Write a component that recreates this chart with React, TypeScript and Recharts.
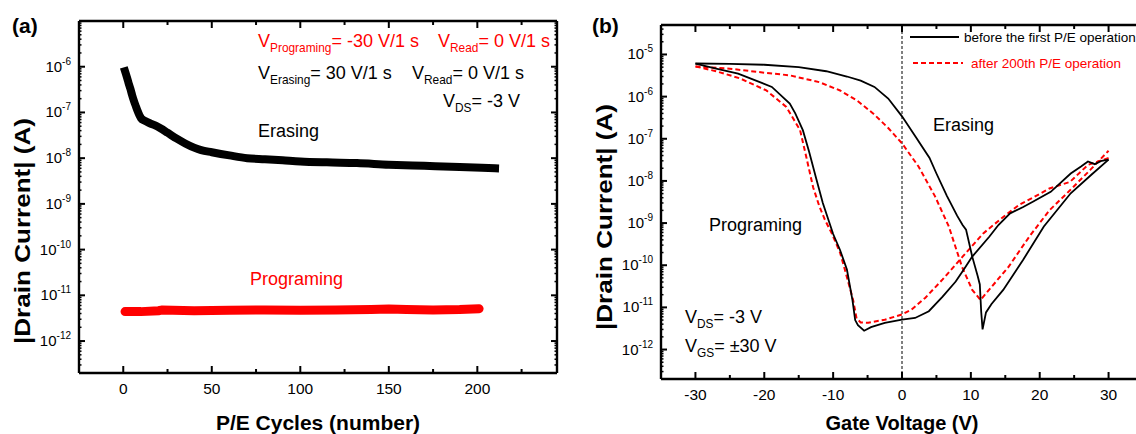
import React from "react";
import { LineChart, Line, XAxis, YAxis, ReferenceLine } from "recharts";

// (a) endurance: P/E cycles vs |drain current|
const erasingCycles = [1, 2, 3, 4, 5, 6, 7, 8, 10, 12, 15, 18, 21, 25, 30, 35, 40, 44, 50, 60, 70, 80, 90, 100, 115, 132, 150, 170, 190, 210];
const erasingCurrent = [8e-7, 6e-7, 4.4e-7, 3.3e-7, 2.4e-7, 1.8e-7, 1.4e-7, 1.1e-7, 7.5e-8, 6.6e-8, 5.8e-8, 5.2e-8, 4.5e-8, 3.6e-8, 2.7e-8, 2.1e-8, 1.7e-8, 1.5e-8, 1.35e-8, 1.15e-8, 1.0e-8, 9.5e-9, 9.0e-9, 8.5e-9, 8.1e-9, 7.8e-9, 7.2e-9, 6.8e-9, 6.4e-9, 6.0e-9];
const programCycles = [1, 10, 20, 22, 40, 60, 80, 100, 120, 140, 150, 160, 175, 190, 201];
const programCurrent = [4.4e-12, 4.4e-12, 4.6e-12, 4.8e-12, 4.6e-12, 4.7e-12, 4.8e-12, 4.7e-12, 4.8e-12, 4.9e-12, 5.0e-12, 4.9e-12, 4.8e-12, 4.9e-12, 5.1e-12];

// (b) transfer curves, each sweep direction as its own branch
const beforeFwdV = [-30, -25, -20, -15, -11, -8, -6, -4, -2, 0, 2, 4, 5, 6.5, 8, 8.8, 9.3, 10.2, 11, 11.3, 11.5, 11.7, 12.2, 13, 14.7, 17.6, 20.6, 24.5, 27.5, 30];
const beforeFwdI = [6.1e-6, 6.0e-6, 5.7e-6, 5.0e-6, 4.0e-6, 3.0e-6, 2.4e-6, 1.7e-6, 9e-7, 3.4e-7, 1.1e-7, 3.5e-8, 1.5e-8, 4.5e-9, 1.5e-9, 9e-10, 7e-10, 1.6e-10, 5.5e-11, 3.5e-11, 8e-12, 3e-12, 7.6e-12, 1.2e-11, 2.6e-11, 1.35e-10, 8.3e-10, 5.1e-9, 1.4e-8, 3.2e-8];
const beforeRevV = [30, 29, 28, 27, 26, 24.5, 21.6, 19, 17.6, 15.7, 14, 12.7, 10.2, 9, 7.8, 5.9, 3.9, 1.9, 0, -2.5, -4.5, -5.5, -6.4, -6.8, -7.2, -8, -9, -10, -11.5, -12.5, -13.5, -14.4, -15.5, -16.3, -18.9, -23.8, -27, -30];
const beforeRevI = [3.2e-8, 3.0e-8, 2.5e-8, 2.9e-8, 2.2e-8, 1.5e-8, 5.5e-9, 3.2e-9, 2.4e-9, 1.7e-9, 9e-10, 4.8e-10, 1.6e-10, 8e-11, 4.1e-11, 1.8e-11, 8.1e-12, 5.6e-12, 5.1e-12, 4.3e-12, 3.4e-12, 2.8e-12, 3.8e-12, 5e-12, 1.5e-11, 7.9e-11, 2.3e-10, 5.5e-10, 3e-9, 1.2e-8, 5e-8, 1.6e-7, 4e-7, 6.8e-7, 1.7e-6, 3.5e-6, 4.6e-6, 6.1e-6];
const afterFwdV = [-30, -25, -20, -16.3, -12, -9, -6.5, -4.2, -2, 0, 2.4, 4.8, 6.8, 8.7, 10.2, 11.4, 13.1, 15.5, 18.5, 21.4, 24.4, 27.3, 30];
const afterFwdI = [5.2e-6, 4.6e-6, 3.7e-6, 3.2e-6, 2.2e-6, 1.4e-6, 8e-7, 4e-7, 1.8e-7, 7.8e-8, 2.2e-8, 4.3e-9, 8.3e-10, 9.3e-11, 2.6e-11, 1.5e-11, 3.2e-11, 9.3e-11, 4.8e-10, 2e-9, 6e-9, 1.8e-8, 5.2e-8];
const afterRevV = [30, 27, 24.4, 21.4, 19, 17, 14.7, 11.8, 8.8, 5.9, 3.4, 1.4, 0, -2.5, -4.9, -6, -6.6, -7.1, -8.3, -9, -10.2, -11.2, -12, -12.9, -13.9, -14.8, -16.8, -19.7, -23.5, -27, -30];
const afterRevI = [3.5e-8, 2.4e-8, 9.5e-9, 6.6e-9, 4e-9, 2.7e-9, 1.4e-9, 5.7e-10, 1.6e-10, 4.6e-11, 1.7e-11, 8.9e-12, 6.8e-12, 5.1e-12, 4.3e-12, 4.4e-12, 5.5e-12, 1.5e-11, 7.9e-11, 2e-10, 5.7e-10, 1.2e-9, 2.5e-9, 7e-9, 3.7e-8, 1.6e-7, 5.7e-7, 1.4e-6, 2.7e-6, 4e-6, 5.2e-6];

const aXTicks = [0, 50, 100, 150, 200];
const aXMinor = [25, 75, 125, 175, 225];
const aYTicks = [1e-12, 1e-11, 1e-10, 1e-9, 1e-8, 1e-7, 1e-6];
const bXTicks = [-30, -20, -10, 0, 10, 20, 30];
const bXMinor = [-25, -15, -5, 5, 15, 25];
const bYTicks = [1e-12, 1e-11, 1e-10, 1e-9, 1e-8, 1e-7, 1e-6, 1e-5];

const FONT = "'Liberation Sans', Arial, sans-serif";
const RED = "#ff0000";

const zip = (xs: number[], ys: number[]) => xs.map((x, i) => ({ x, y: ys[i] }));

// log minor ticks (2..9 x decade) inside a domain
const withMinor = (majors: number[], lo: number, hi: number) => {
  const out: number[] = [];
  for (let e = -14; e <= -4; e++) {
    for (let k = 1; k <= 9; k++) {
      const v = Number((k * Math.pow(10, e)).toPrecision(3));
      if (v >= lo && v <= hi && (k > 1 || majors.includes(v))) out.push(v);
    }
  }
  return out;
};

const isDecade = (v: number) => Math.abs(Math.log10(v) - Math.round(Math.log10(v))) < 1e-6;

const YTick = (props: any) => {
  const { x, y, payload, side, labelled } = props;
  const v = payload.value;
  const major = isDecade(v);
  const len = major ? 6 : 2.5;
  const dir = side === "right" ? -1 : 1;
  return (
    <g>
      <line x1={x} x2={x + dir * len} y1={y} y2={y} stroke="#000" strokeWidth={major ? 2 : 1.5} />
      {major && labelled && (
        <text x={x - 8} y={y + 5} textAnchor="end" fontSize={15} fontFamily={FONT} fill="#000">
          10<tspan dy={-7} fontSize={10}>{Math.round(Math.log10(v))}</tspan>
        </text>
      )}
    </g>
  );
};

const XTick = (props: any) => {
  const { x, y, payload, side, labelled, majors } = props;
  const v = payload.value;
  const major = majors.includes(v);
  const len = major ? 7 : 4;
  const dir = side === "top" ? 1 : -1;
  return (
    <g>
      <line x1={x} x2={x} y1={y} y2={y + dir * len} stroke="#000" strokeWidth={2} />
      {major && labelled && (
        <text x={x} y={y + 21} textAnchor="middle" fontSize={15.5} fontFamily={FONT} fill="#000">
          {v}
        </text>
      )}
    </g>
  );
};

const axisLine = { stroke: "#000", strokeWidth: 2.4 };

const Sub = ({ x, y, main, sub, rest, color = "#000", size = 18 }: any) => (
  <text x={x} y={y} fontSize={size} fontFamily={FONT} fill={color}>
    {main}
    <tspan dy={5} fontSize={size * 0.66}>{sub}</tspan>
    <tspan dy={-5}>{rest}</tspan>
  </text>
);

const PanelA = () => {
  const xDomain = [-25, 245];
  const yDomain = [2e-13, 1e-5];
  const xAll = [...aXTicks, ...aXMinor].sort((a, b) => a - b);
  const yAll = withMinor(aYTicks, yDomain[0], yDomain[1]);
  return (
    <LineChart width={570} height={434} margin={{ top: 20, right: 12, bottom: 0, left: 0 }}>
      <XAxis xAxisId="b" dataKey="x" type="number" domain={xDomain} ticks={xAll} interval={0} allowDataOverflow
        height={61} tickSize={0} tickMargin={0} tickLine={false} stroke="#000" axisLine={axisLine}
        tick={(p: any) => <XTick {...p} side="bottom" labelled majors={aXTicks} />} />
      <XAxis xAxisId="t" dataKey="x" type="number" orientation="top" domain={xDomain} ticks={xAll} interval={0} allowDataOverflow
        height={1} tickSize={0} tickMargin={0} tickLine={false} stroke="#000" axisLine={axisLine}
        tick={(p: any) => <XTick {...p} side="top" majors={aXTicks} />} />
      <YAxis yAxisId="l" type="number" scale="log" domain={yDomain} ticks={yAll} interval={0} allowDataOverflow
        width={79} tickSize={0} tickMargin={0} tickLine={false} stroke="#000" axisLine={axisLine}
        tick={(p: any) => <YTick {...p} side="left" labelled />} />
      <YAxis yAxisId="r" type="number" scale="log" orientation="right" domain={yDomain} ticks={yAll} interval={0} allowDataOverflow
        width={1} tickSize={0} tickMargin={0} tickLine={false} stroke="#000" axisLine={axisLine}
        tick={(p: any) => <YTick {...p} side="right" />} />
      <Line xAxisId="b" yAxisId="l" type="monotone" data={zip(erasingCycles, erasingCurrent)} dataKey="y" stroke="#000" strokeWidth={8}
        strokeLinecap="square" dot={false} isAnimationActive={false} />
      <Line xAxisId="b" yAxisId="l" data={zip(programCycles, programCurrent)} dataKey="y" stroke={RED} strokeWidth={9}
        strokeLinecap="round" dot={false} isAnimationActive={false} />
      <Line xAxisId="t" yAxisId="r" data={zip(programCycles, programCurrent)} dataKey="y" stroke="none" dot={false} isAnimationActive={false} />
    </LineChart>
  );
};

const PanelB = () => {
  const xDomain = [-35, 35];
  const yDomain = [2e-13, 5e-5];
  const xAll = [...bXTicks, ...bXMinor].sort((a, b) => a - b);
  const yAll = withMinor(bYTicks, yDomain[0], yDomain[1]);
  const solid = { stroke: "#000", strokeWidth: 1.8, dot: false, isAnimationActive: false };
  const dashed = { stroke: RED, strokeWidth: 2, strokeDasharray: "5 3", dot: false, isAnimationActive: false };
  return (
    <LineChart width={580} height={434} margin={{ top: 24, right: 6, bottom: 0, left: 0 }}>
      <XAxis xAxisId="b" dataKey="x" type="number" domain={xDomain} ticks={xAll} interval={0} allowDataOverflow
        height={55} tickSize={0} tickMargin={0} tickLine={false} stroke="#000" axisLine={axisLine}
        tick={(p: any) => <XTick {...p} side="bottom" labelled majors={bXTicks} />} />
      <XAxis xAxisId="t" dataKey="x" type="number" orientation="top" domain={xDomain} ticks={xAll} interval={0} allowDataOverflow
        height={1} tickSize={0} tickMargin={0} tickLine={false} stroke="#000" axisLine={axisLine}
        tick={(p: any) => <XTick {...p} side="top" majors={bXTicks} />} />
      <YAxis yAxisId="l" type="number" scale="log" domain={yDomain} ticks={yAll} interval={0} allowDataOverflow
        width={91} tickSize={0} tickMargin={0} tickLine={false} stroke="#000" axisLine={axisLine}
        tick={(p: any) => <YTick {...p} side="left" labelled />} />
      <YAxis yAxisId="r" type="number" scale="log" orientation="right" domain={yDomain} ticks={yAll} interval={0} allowDataOverflow
        width={1} tickSize={0} tickMargin={0} tickLine={false} stroke="#000" axisLine={axisLine}
        tick={(p: any) => <YTick {...p} side="right" />} />
      <ReferenceLine xAxisId="b" yAxisId="l" x={0} stroke="#000" strokeWidth={1} strokeDasharray="3 2" />
      <Line xAxisId="b" yAxisId="l" data={zip(afterFwdV, afterFwdI)} dataKey="y" {...dashed} />
      <Line xAxisId="b" yAxisId="l" data={zip(afterRevV, afterRevI)} dataKey="y" {...dashed} />
      <Line xAxisId="b" yAxisId="l" data={zip(beforeFwdV, beforeFwdI)} dataKey="y" {...solid} />
      <Line xAxisId="b" yAxisId="l" data={zip(beforeRevV, beforeRevI)} dataKey="y" {...solid} />
      <Line xAxisId="t" yAxisId="r" data={zip(beforeRevV, beforeRevI)} dataKey="y" stroke="none" dot={false} isAnimationActive={false} />
    </LineChart>
  );
};

const Overlay = () => (
  <svg width={1136} height={434} style={{ position: "absolute", left: 0, top: 0, pointerEvents: "none" }}>
    <g fontFamily={FONT}>
      <text x={12} y={33} fontSize={21} fontWeight="bold">(a)</text>
      <text x={592} y={33} fontSize={21} fontWeight="bold">(b)</text>

      <Sub x={258} y={47} main="V" sub="Programing" rest="= -30 V/1 s" color={RED} />
      <Sub x={438} y={47} main="V" sub="Read" rest="= 0 V/1 s" color={RED} />
      <Sub x={258} y={79} main="V" sub="Erasing" rest="= 30 V/1 s" />
      <Sub x={412} y={79} main="V" sub="Read" rest="= 0 V/1 s" />
      <Sub x={443} y={107} main="V" sub="DS" rest="= -3 V" />
      <text x={258} y={137} fontSize={18}>Erasing</text>
      <text x={250} y={285} fontSize={18} fill={RED}>Programing</text>

      <text transform="translate(30,231) rotate(-90)" textAnchor="middle" fontSize={22} fontWeight="bold"
        textLength={226} lengthAdjust="spacingAndGlyphs">|Drain Current| (A)</text>
      <text x={318} y={430} textAnchor="middle" fontSize={21} fontWeight="bold">P/E Cycles (number)</text>

      <line x1={910} x2={959} y1={37} y2={37} stroke="#000" strokeWidth={1.8} />
      <text x={964} y={42} fontSize={13.5}>before the first P/E operation</text>
      <line x1={913} x2={963} y1={63} y2={63} stroke={RED} strokeWidth={2} strokeDasharray="5 3" />
      <text x={971} y={68} fontSize={13.5} fill={RED}>after 200th P/E operation</text>

      <text x={933} y={131} fontSize={18}>Erasing</text>
      <text x={709} y={231} fontSize={18}>Programing</text>
      <Sub x={685} y={323} main="V" sub="DS" rest="= -3 V" />
      <Sub x={685} y={352} main="V" sub="GS" rest="= ±30 V" />

      <text transform="translate(612,217) rotate(-90)" textAnchor="middle" fontSize={22} fontWeight="bold"
        textLength={226} lengthAdjust="spacingAndGlyphs">|Drain Current| (A)</text>
      <text x={902} y={430} textAnchor="middle" fontSize={20} fontWeight="bold">Gate Voltage (V)</text>
    </g>
  </svg>
);

export default function App() {
  return (
    <div style={{ position: "fixed", left: 0, top: 0, width: 1136, height: 434, overflow: "hidden", background: "#fff", fontFamily: FONT }}>
      <div style={{ position: "absolute", left: 0, top: 0 }}>
        <PanelA />
      </div>
      <div style={{ position: "absolute", left: 570, top: 0 }}>
        <PanelB />
      </div>
      <Overlay />
    </div>
  );
}
